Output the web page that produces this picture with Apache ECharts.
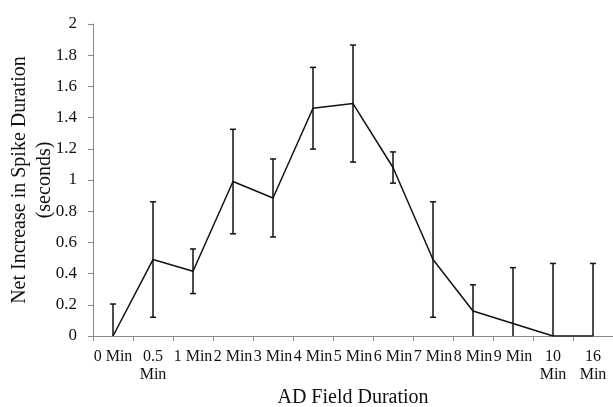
<!DOCTYPE html>
<html>
<head>
<meta charset="utf-8">
<script src="https://cdn.jsdelivr.net/npm/echarts@6/dist/echarts.min.js"></script>
<style>
  html, body { margin: 0; padding: 0; background: #ffffff; }
  #chart { width: 613px; height: 407px; }
</style>
</head>
<body>
<div id="chart"></div>
<script>
// AD field duration categories
const categories = ['0 Min', '0.5 Min', '1 Min', '2 Min', '3 Min', '4 Min', '5 Min',
  '6 Min', '7 Min', '8 Min', '9 Min', '10 Min', '16 Min']
// net increase in spike duration (seconds)
const means = [0, 0.49, 0.415, 0.99, 0.885, 1.46, 1.49, 1.08, 0.49, 0.16, 0.08, 0, 0]
// +/- error
const errors = [0.205, 0.37, 0.143, 0.335, 0.25, 0.262, 0.375, 0.1, 0.37, 0.168, 0.358, 0.465, 0.465]

const font = 'Liberation Serif'
const chart = echarts.init(document.getElementById('chart'))

chart.setOption({
  backgroundColor: '#ffffff',
  animation: false,
  grid: {
    left: 93,
    right: 0,
    top: 24,
    bottom: 71,
    outerBoundsMode: 'none'
  },
  xAxis: {
    type: 'category',
    data: categories,
    boundaryGap: true,
    name: 'AD Field Duration',
    nameLocation: 'middle',
    nameGap: 52,
    nameMoveOverlap: false,
    nameTextStyle: { fontFamily: font, fontSize: 20, color: '#111' },
    axisLine: { lineStyle: { color: '#888', width: 1 } },
    axisTick: { show: true, alignWithLabel: false, length: 5, lineStyle: { color: '#888' } },
    axisLabel: {
      interval: 0,
      margin: 12,
      fontFamily: font,
      fontSize: 16,
      lineHeight: 18,
      color: '#111',
      // long labels wrap onto two lines, like in the figure
      formatter: function (v) {
        return v.length > 5 ? v.replace(' ', '\n') : v
      }
    }
  },
  yAxis: {
    type: 'value',
    min: 0,
    max: 2,
    interval: 0.2,
    name: 'Net Increase in Spike Duration\n(seconds)',
    nameLocation: 'middle',
    nameGap: 36,
    nameMoveOverlap: false,
    nameTextStyle: { fontFamily: font, fontSize: 20, color: '#111', lineHeight: 25 },
    splitLine: { show: false },
    axisLine: { show: true, lineStyle: { color: '#888', width: 1 } },
    axisTick: { show: true, length: 5, lineStyle: { color: '#888' } },
    axisLabel: {
      margin: 16,
      fontFamily: font,
      fontSize: 17,
      color: '#111'
    }
  },
  series: [
    {
      type: 'line',
      data: means,
      showSymbol: false,
      symbol: 'none',
      lineStyle: { color: '#111', width: 1.5 },
      z: 3
    },
    {
      type: 'custom',
      clip: true,
      data: means.map((m, i) => [i, m - errors[i], m + errors[i]]),
      renderItem: function (params, api) {
        const lo = api.coord([api.value(0), api.value(1)])
        const hi = api.coord([api.value(0), api.value(2)])
        const cap = 3
        const style = { stroke: '#111', lineWidth: 1.5 }
        return {
          type: 'group',
          children: [
            { type: 'line', shape: { x1: lo[0], y1: lo[1], x2: hi[0], y2: hi[1] }, style: style },
            { type: 'line', shape: { x1: hi[0] - cap, y1: hi[1], x2: hi[0] + cap, y2: hi[1] }, style: style },
            { type: 'line', shape: { x1: lo[0] - cap, y1: lo[1], x2: lo[0] + cap, y2: lo[1] }, style: style }
          ]
        }
      },
      z: 4
    }
  ]
})
</script>
</body>
</html>
